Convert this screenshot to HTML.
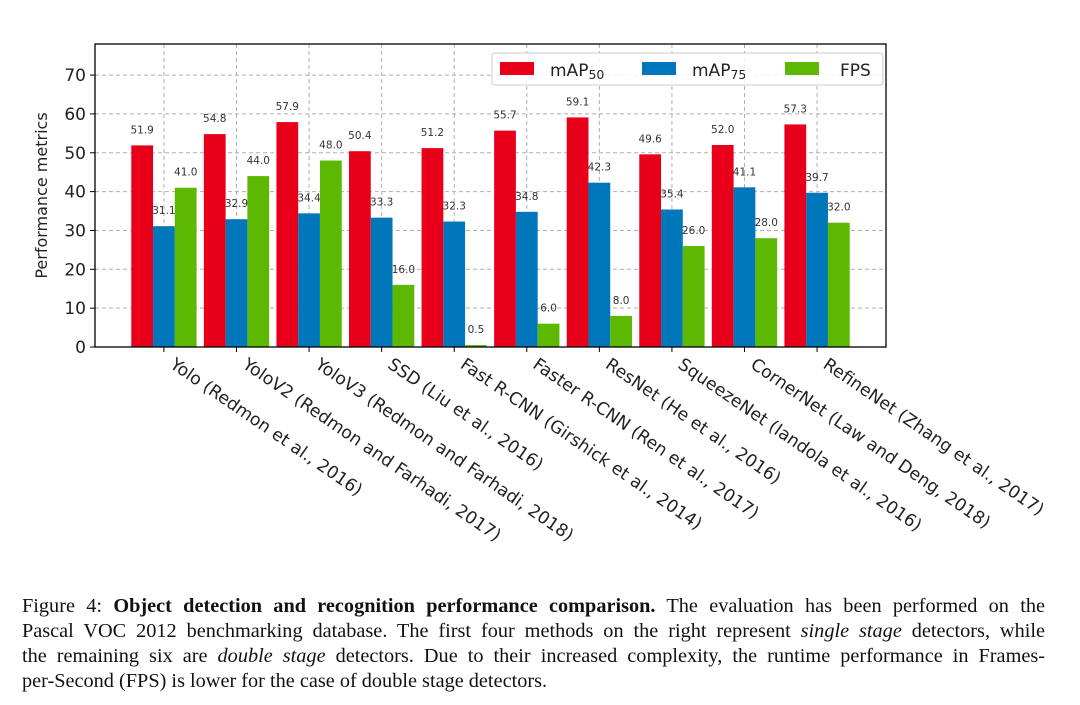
<!DOCTYPE html>
<html><head><meta charset="utf-8"><style>
body{margin:0;background:#fff;width:1080px;height:705px;overflow:hidden;position:relative}
svg{position:absolute;left:0;top:0}
.cap{position:absolute;left:22px;width:1023px;font-family:"Liberation Serif",serif;font-size:20.3px;line-height:25px;color:#111}
.cap div{text-align:justify;text-align-last:justify;white-space:nowrap}
.cap div.last{text-align-last:left}
</style></head><body>
<svg id="chart" width="1080" height="590" xmlns="http://www.w3.org/2000/svg" font-family="'DejaVu Sans','Liberation Sans',sans-serif"></svg>
<div class="cap" style="top:594px">
<div>Figure 4: <b>Object detection and recognition performance comparison.</b> The evaluation has been performed on the</div>
<div>Pascal VOC 2012 benchmarking database. The first four methods on the right represent <i>single stage</i> detectors, while</div>
<div>the remaining six are <i>double stage</i> detectors. Due to their increased complexity, the runtime performance in Frames-</div>
<div class="last">per-Second (FPS) is lower for the case of double stage detectors.</div>
</div>
<script>
const categories=["Yolo (Redmon et al., 2016)","YoloV2 (Redmon and Farhadi, 2017)","YoloV3 (Redmon and Farhadi, 2018)","SSD (Liu et al., 2016)","Fast R-CNN (Girshick et al., 2014)","Faster R-CNN (Ren et al., 2017)","ResNet (He et al., 2016)","SqueezeNet (Iandola et al., 2016)","CornerNet (Law and Deng, 2018)","RefineNet (Zhang et al., 2017)"];
const map50=[51.9,54.8,57.9,50.4,51.2,55.7,59.1,49.6,52.0,57.3];
const map75=[31.1,32.9,34.4,33.3,32.3,34.8,42.3,35.4,41.1,39.7];
const fps=[41.0,44.0,48.0,16.0,0.5,6.0,8.0,26.0,28.0,32.0];
const yTicks=[0,10,20,30,40,50,60,70];
const NS="http://www.w3.org/2000/svg";
const svg=document.getElementById('chart');
const L=95,R=886,T=44,B=347,YMAX=78;
const y=v=>B-(v/YMAX)*(B-T);
const step=(R-L)/10.9;
const xc=i=>L+step*(0.95+i);
const bw=step*0.3;
function mk(tag,at,txt){const e=document.createElementNS(NS,tag);for(const k in at)e.setAttribute(k,at[k]);if(txt!==undefined)e.textContent=txt;svg.appendChild(e);return e;}
yTicks.forEach(t=>{
 const g=mk('line',{x1:L,x2:R,y1:y(t),y2:y(t),stroke:'#b0b0b0','stroke-dasharray':'4,3','stroke-width':1});
 
 
 const tk=mk('line',{x1:L-5,x2:L,y1:y(t),y2:y(t),stroke:'#000'});
 
 
 const lb=mk('text',{x:L-9,y:y(t)+6,'text-anchor':'end','font-size':17,fill:'#222'},String(t));
 
 
});
categories.forEach((c,i)=>{
 const g=mk('line',{x1:xc(i),x2:xc(i),y1:T,y2:B,stroke:'#b0b0b0','stroke-dasharray':'4,3','stroke-width':1});
 
 
});
const series=[[map50,'#e8001a','bar-map50'],[map75,'#0077bb','bar-map75'],[fps,'#5cb800','bar-fps']];
series.forEach(([vals,col,nm],s)=>{
 vals.forEach((v,i)=>{
  const x0=xc(i)+(s-1.5)*bw;
  const r=mk('rect',{x:x0,y:y(v),width:bw,height:B-y(v),fill:col});
  
  
  const t=mk('text',{x:x0+bw/2,y:y(v)-12,'text-anchor':'middle','font-size':10.5,fill:'#333'},v.toFixed(1));
  
  
 });
});
categories.forEach((c,i)=>{
 const tk=mk('line',{x1:xc(i),x2:xc(i),y1:B,y2:B+5,stroke:'#000'});
 
 
 const t=mk('text',{x:xc(i)+5,y:B+20,'font-size':17.3,fill:'#222',transform:`rotate(34.5 ${xc(i)+5} ${B+20})`},c);
 
 
});
const fr=mk('rect',{x:L,y:T,width:R-L,height:B-T,fill:'none',stroke:'#000','stroke-width':1.3});


const yt=mk('text',{x:47,y:(T+B)/2,'text-anchor':'middle','font-size':16,fill:'#222',transform:`rotate(-90 47 ${(T+B)/2})`},'Performance metrics');


const lg=mk('rect',{x:492,y:53,width:391,height:32,rx:3,fill:'#fff','fill-opacity':0.85,stroke:'#ccc'});


const leg=[['mAP','50','#e8001a',500],['mAP','75','#0077bb',642],['FPS','','#5cb800',785]];
leg.forEach(([a,sub,col,x0])=>{
 const sw=mk('rect',{x:x0,y:62,width:34,height:13,fill:col});
 
 
 const t=mk('text',{x:x0+(sub?50:55),y:76,'font-size':17,fill:'#222'});
 
 
 const s1=document.createElementNS(NS,'tspan');s1.textContent=a;t.appendChild(s1);
 if(sub){const s2=document.createElementNS(NS,'tspan');s2.setAttribute('font-size','12.5');s2.setAttribute('dy','3');s2.textContent=sub;t.appendChild(s2);}
});
</script>
</body></html>
